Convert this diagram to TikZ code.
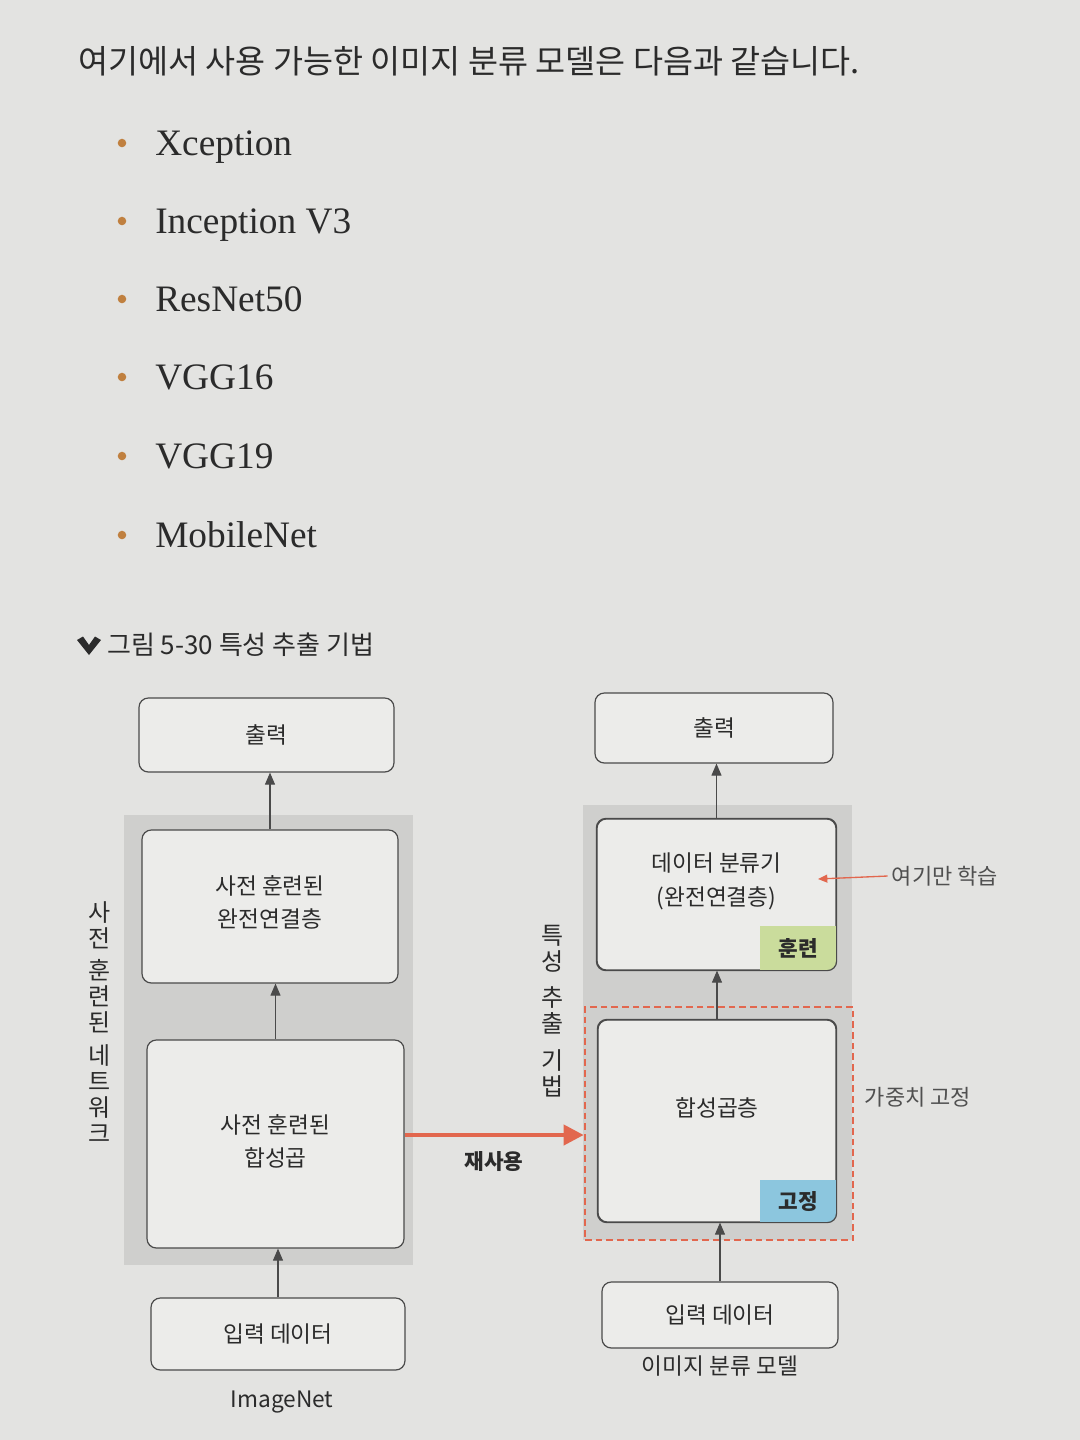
\documentclass[tikz,border=0pt]{standalone}
\usepackage{fontspec}
\newfontfamily\kr{Noto Sans CJK KR}
\newfontfamily\listserif{Liberation Serif}
\usetikzlibrary{arrows.meta,fit}

\definecolor{pagebg}{HTML}{E3E3E1}
\definecolor{boxfill}{HTML}{ECECEA}
\definecolor{panelgray}{HTML}{CFCFCD}
\definecolor{ink}{HTML}{2B2B2B}
\definecolor{softink}{HTML}{505050}
\definecolor{edge}{HTML}{4A4A4A}
\definecolor{trainbg}{HTML}{CADC9C}
\definecolor{frozenbg}{HTML}{8CC6DE}
\definecolor{alert}{HTML}{E2674E}
\definecolor{bulletc}{HTML}{C0803F}

\tikzset{
  layerbox/.style={draw=edge, line width=0.9pt, fill=boxfill, rounded corners=7pt, inner sep=0pt},
  boxoutline/.style={draw=edge, line width=0.9pt, rounded corners=7pt},
  boxtext/.style={text=ink, font=\kr\fontsize{17}{25}\selectfont, align=center},
  panel/.style={fill=panelgray, draw=none, inner sep=0pt},
  frozenframe/.style={draw=alert, line width=2pt, dash pattern=on 5pt off 3pt, inner sep=0pt},
  tag/.style={font=\kr\bfseries\fontsize{16}{18}\selectfont, text=ink, inner sep=0pt,
              anchor=south east, minimum width=57pt, minimum height=33pt},
  flow/.style={draw=edge, line width=0.8pt, -{Triangle[length=9pt,width=7.5pt]}},
  reuse/.style={draw=alert, line width=3pt, -{Triangle[length=15pt,width=15pt]}},
  note/.style={draw=alert, line width=1pt, -{Triangle[length=7pt,width=6pt]}},
  vlabel/.style={text=ink, font=\kr\fontsize{18}{19.5}\selectfont, align=center, inner sep=0pt},
  sidetext/.style={text=softink, font=\kr\fontsize{16.5}{20}\selectfont, inner sep=3pt},
  listitem/.style={text=ink, font=\listserif\fontsize{28}{32}\selectfont, anchor=base west, inner sep=0pt},
  bulletdot/.style={fill=bulletc, draw=none},
}

\begin{document}
\begin{tikzpicture}[x=0.75pt,y=-0.75pt]
  % page
  \fill[pagebg] (0,0) rectangle (1080,1440);

  % introductory sentence
  \node[anchor=west, text=ink, font=\kr\fontsize{24.5}{29}\selectfont, inner sep=0pt] (intro)
    at (78,61) {여기에서 사용 가능한 이미지 분류 모델은 다음과 같습니다.};

  % model list
  \foreach \y/\name/\txt in {155/xc/Xception, 233/inc/Inception V3, 311/res/ResNet50,
                             389/vgga/VGG16, 468/vggb/VGG19, 547/mob/MobileNet}{
    \fill[bulletdot] (122,\y-12) circle (3.2pt);
    \node[listitem] (\name) at (155,\y) {\txt};
  }

  % figure caption
  \fill[ink] (77,640) -- (83,636.5) -- (89,645) -- (95,636.5) -- (101,640) -- (89,655) -- cycle;
  \node[anchor=west, text=ink, font=\kr\fontsize{19.5}{23}\selectfont, inner sep=0pt] (caption)
    at (107,645) {그림 5-30 특성 추출 기법};

  % ---------- pre-trained network (left) ----------
  \node[panel, fit={(124,815)(413,1265)}] (netL) {};

  \node[layerbox, minimum width=191.25pt, minimum height=55.5pt] (outL) at (266.5,735) {};
  \node[boxtext] at (outL.center) {출력};

  \node[layerbox, minimum width=192pt, minimum height=114.75pt] (fcL) at (270,906.5) {};
  \node[boxtext] at ([yshift=3pt]fcL.center) {사전 훈련된\\완전연결층};

  \node[layerbox, minimum width=192.75pt, minimum height=156pt] (convL) at (275.5,1144) {};
  \node[boxtext] at ([yshift=2pt]convL.center) {사전 훈련된\\합성곱};

  \node[layerbox, minimum width=190.5pt, minimum height=54pt] (inL) at (278,1334) {};
  \node[boxtext] at (inL.center) {입력 데이터};

  \node[boxtext] (imgnet) at (282,1402) {ImageNet};

  \draw[flow] (inL.north) -- (inL.north |- convL.south);
  \draw[flow] (convL.north) -- (convL.north |- fcL.south);
  \draw[flow] (fcL.north) -- (fcL.north |- outL.south);

  \node[vlabel] (netLbl) at (100,1022)
    {사\\전\\[5pt]훈\\련\\된\\[5pt]네\\트\\워\\크};

  % ---------- image classification model (right) ----------
  \node[panel, fit={(583,805)(852,1240)}] (netR) {};
  \node[frozenframe, fit={(585,1007)(853,1240)}] (frz) {};

  \node[layerbox, minimum width=178.5pt, minimum height=52.5pt] (outR) at (714,728) {};
  \node[boxtext] at (outR.center) {출력};

  \node[layerbox, minimum width=179.25pt, minimum height=113.25pt] (fcR) at (716.5,894.5) {};
  \begin{scope}
    \clip[rounded corners=7pt] (fcR.south west) rectangle (fcR.north east);
    \node[tag, fill=trainbg] (trainTag) at (fcR.south east) {훈련};
  \end{scope}
  \draw[boxoutline] (fcR.south west) rectangle (fcR.north east);
  \node[boxtext] at ([yshift=9.75pt]fcR.center) {데이터 분류기\\(완전연결층)};

  \node[layerbox, minimum width=178.5pt, minimum height=151.5pt] (convR) at (717,1121) {};
  \begin{scope}
    \clip[rounded corners=7pt] (convR.south west) rectangle (convR.north east);
    \node[tag, fill=frozenbg, minimum height=31.5pt] (frozenTag) at (convR.south east) {고정};
  \end{scope}
  \draw[boxoutline] (convR.south west) rectangle (convR.north east);
  \node[boxtext] at ([yshift=9.75pt]convR.center) {합성곱층};

  \node[layerbox, minimum width=177pt, minimum height=49.5pt] (inR) at (720,1315) {};
  \node[boxtext] at (inR.center) {입력 데이터};

  \node[boxtext] (clsmodel) at (720,1366) {이미지 분류 모델};

  \draw[flow] (inR.north) -- (inR.north |- convR.south);
  \draw[flow] (convR.north) -- (convR.north |- fcR.south);
  \draw[flow] (fcR.north) -- (fcR.north |- outR.south);

  \node[vlabel] (featLbl) at (553,1011)
    {특\\성\\[8pt]추\\출\\[8pt]기\\법};

  % side notes
  \node[sidetext] (learn) at (945,876) {여기만 학습};
  \coordinate (learnTip) at (818,879);
  \draw[note] (learn.west) -- (learnTip);

  \node[sidetext] (freeze) at (918,1097) {가중치 고정};

  % reuse of the convolutional base
  \draw[reuse] ([yshift=6.75pt]convL.east) -- ([yshift=6.75pt]convL.east -| frz.west);
  \node[text=ink, font=\kr\bfseries\fontsize{16}{20}\selectfont] (reuseLbl) at (494,1162) {재사용};
\end{tikzpicture}
\end{document}
